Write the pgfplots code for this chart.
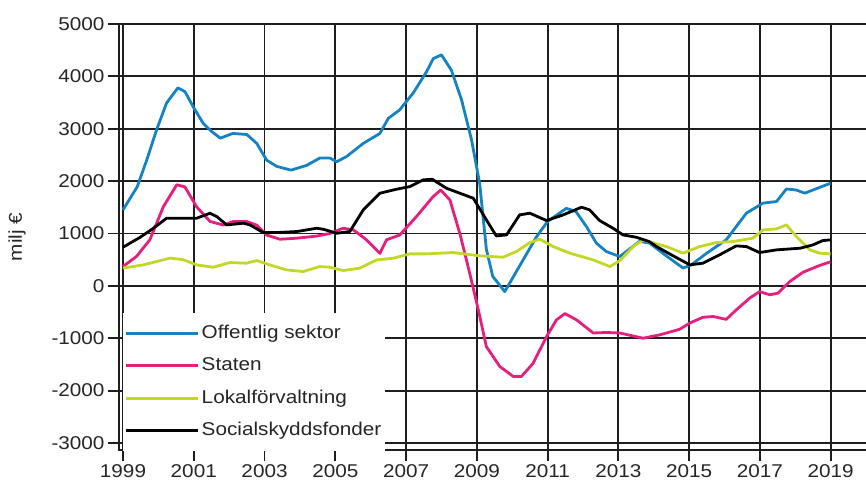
\documentclass[border=0pt]{standalone}
\usepackage{fontspec}
\setmainfont{Liberation Sans}[FakeStretch=1.12]
\usepackage{pgfplots}
\pgfplotsset{compat=1.18}

\definecolor{cblue}{RGB}{20,130,195}
\definecolor{cmag}{RGB}{230,30,125}
\definecolor{clime}{RGB}{195,215,40}
\definecolor{gridc}{RGB}{30,30,30}

\begin{document}
\begin{tikzpicture}
\begin{axis}[
  at={(119bp,41bp)}, anchor=south west,
  scale only axis,
  width=749bp, height=426bp,
  xmin=1998.887, xmax=2020.056,
  ymin=-3134, ymax=5000,
  xtick pos=bottom, ytick pos=left,
  axis line style={gridc, line width=1.8bp},
  xtick={1999,2001,...,2019},
  xticklabels={1999,2001,2003,2005,2007,2009,2011,2013,2015,2017,2019},
  ytick={-3000,-2000,...,5000},
  yticklabels={-3000,-2000,-1000,0,1000,2000,3000,4000,5000},
  tick align=outside,
  major tick length=11bp,
  tick style={gridc, line width=1.8bp},
  grid=major,
  major grid style={draw=gridc, line width=1.8bp},
  ticklabel style={font=\fontsize{18.5bp}{20bp}\selectfont, text=black!85},
  ylabel={milj €},
  every axis y label/.style={at={(rel axis cs:0,0.5)}, xshift=-102bp, rotate=90, anchor=center, font=\fontsize{18.5bp}{20bp}\selectfont, text=black!85},
  legend style={at={(0.005,0.3216)}, anchor=north west, draw=none, fill=white,
    inner xsep=2bp, inner ysep=9bp, row sep=10.5bp,
    font=\fontsize{18.5bp}{20bp}\selectfont, text=black!85,
    nodes={inner sep=2bp, text height=14bp, text depth=4bp}},
  legend cell align=left,
  legend image code/.code={\draw[#1] (0bp,0bp) -- (72bp,0bp);},
]
\addplot[cblue, line width=2.8bp, line join=round] coordinates {
(1999.0,1450) (1999.4,1890) (1999.67,2400) (1999.95,2980) (2000.23,3490)
(2000.55,3780) (2000.75,3710) (2001.0,3400) (2001.27,3100) (2001.5,2950)
(2001.75,2820) (2002.1,2910) (2002.5,2890) (2002.78,2720) (2003.06,2400)
(2003.35,2280) (2003.75,2210) (2004.19,2300) (2004.56,2440) (2004.85,2440)
(2005.04,2370) (2005.32,2470) (2005.79,2720) (2006.26,2910) (2006.5,3200)
(2006.82,3360) (2007.2,3680) (2007.58,4090) (2007.77,4340) (2008.0,4410)
(2008.28,4120) (2008.57,3550) (2008.85,2790) (2009.08,1960) (2009.27,700)
(2009.45,180) (2009.79,-110) (2010.2,370) (2010.69,940) (2011.0,1230)
(2011.53,1480) (2011.8,1420) (2012.1,1130) (2012.38,815) (2012.66,655)
(2013.04,560) (2013.6,850) (2013.89,815) (2014.3,600) (2014.83,340)
(2015.06,400) (2015.49,620) (2016.05,880) (2016.62,1390) (2017.09,1580)
(2017.47,1610) (2017.75,1850) (2018.03,1830) (2018.27,1770) (2018.69,1880)
(2019.0,1960)
};
\addplot[cmag, line width=2.8bp, line join=round] coordinates {
(1999.0,370) (1999.38,560) (1999.76,880) (2000.14,1510) (2000.52,1930)
(2000.75,1890) (2001.08,1510) (2001.46,1230) (2001.84,1160) (2002.12,1230)
(2002.49,1230) (2002.78,1160) (2003.06,970) (2003.44,890) (2003.91,910)
(2004.47,950) (2004.85,1000) (2005.22,1100) (2005.51,1070) (2005.88,880)
(2006.26,620) (2006.45,880) (2006.82,970) (2007.29,1320) (2007.76,1700)
(2007.98,1830) (2008.24,1640) (2008.52,1000) (2008.8,240) (2009.04,-450)
(2009.27,-1160) (2009.65,-1540) (2010.03,-1730) (2010.26,-1730) (2010.59,-1480)
(2010.97,-970) (2011.25,-650) (2011.49,-530) (2011.82,-650) (2012.29,-900)
(2012.66,-890) (2013.04,-900) (2013.7,-1000) (2014.17,-935) (2014.73,-830)
(2015.02,-710) (2015.39,-600) (2015.68,-585) (2016.05,-640) (2016.33,-460)
(2016.71,-235) (2016.99,-110) (2017.28,-170) (2017.51,-140) (2017.84,80)
(2018.22,260) (2018.69,390) (2019.0,460)
};
\addplot[clime, line width=2.8bp, line join=round] coordinates {
(1999.0,340) (1999.57,400) (2000.33,530) (2000.7,500) (2001.08,400)
(2001.55,356) (2002.02,445) (2002.49,433) (2002.78,483) (2003.15,400)
(2003.62,305) (2004.09,273) (2004.56,368) (2004.85,356) (2005.22,292)
(2005.69,338) (2006.17,496) (2006.64,528) (2007.11,611) (2007.58,611)
(2007.95,624) (2008.33,636) (2009.08,573) (2009.74,547) (2010.12,655)
(2010.5,827) (2010.78,891) (2011.16,750) (2011.63,624) (2012.29,496)
(2012.76,368) (2013.04,480) (2013.42,750) (2013.7,875) (2014.36,750)
(2014.83,624) (2015.3,750) (2015.77,827) (2016.24,846) (2016.8,910)
(2017.09,1069) (2017.47,1088) (2017.75,1164) (2018.03,941) (2018.41,687)
(2018.69,624) (2019.0,611)
};
\addplot[black, line width=2.8bp, line join=round] coordinates {
(1999.0,738) (1999.49,929) (1999.86,1100) (2000.23,1291) (2000.61,1291)
(2001.08,1291) (2001.46,1387) (2001.65,1323) (2001.93,1164) (2002.4,1196)
(2002.59,1164) (2002.96,1018) (2003.34,1018) (2003.91,1037) (2004.47,1100)
(2004.66,1081) (2005.04,1005) (2005.41,1037) (2005.79,1450) (2006.26,1769)
(2006.73,1845) (2007.11,1896) (2007.48,2023) (2007.74,2036) (2008.14,1864)
(2008.52,1769) (2008.9,1673) (2009.27,1260) (2009.55,954) (2009.84,973)
(2010.21,1355) (2010.5,1387) (2010.97,1247) (2011.44,1355) (2011.96,1502)
(2012.19,1450) (2012.47,1247) (2012.85,1100) (2013.13,973) (2013.5,929)
(2013.87,846) (2014.08,750) (2014.55,573) (2015.02,401) (2015.39,433)
(2015.86,592) (2016.33,763) (2016.62,750) (2016.99,636) (2017.47,687)
(2018.14,719) (2018.5,782) (2018.78,865) (2019.0,878)
};
\legend{Offentlig sektor, Staten, Lokalförvaltning, Socialskyddsfonder}
\end{axis}
\pgfresetboundingbox
\useasboundingbox (0,0) rectangle (866bp,491bp);
\end{tikzpicture}
\end{document}
